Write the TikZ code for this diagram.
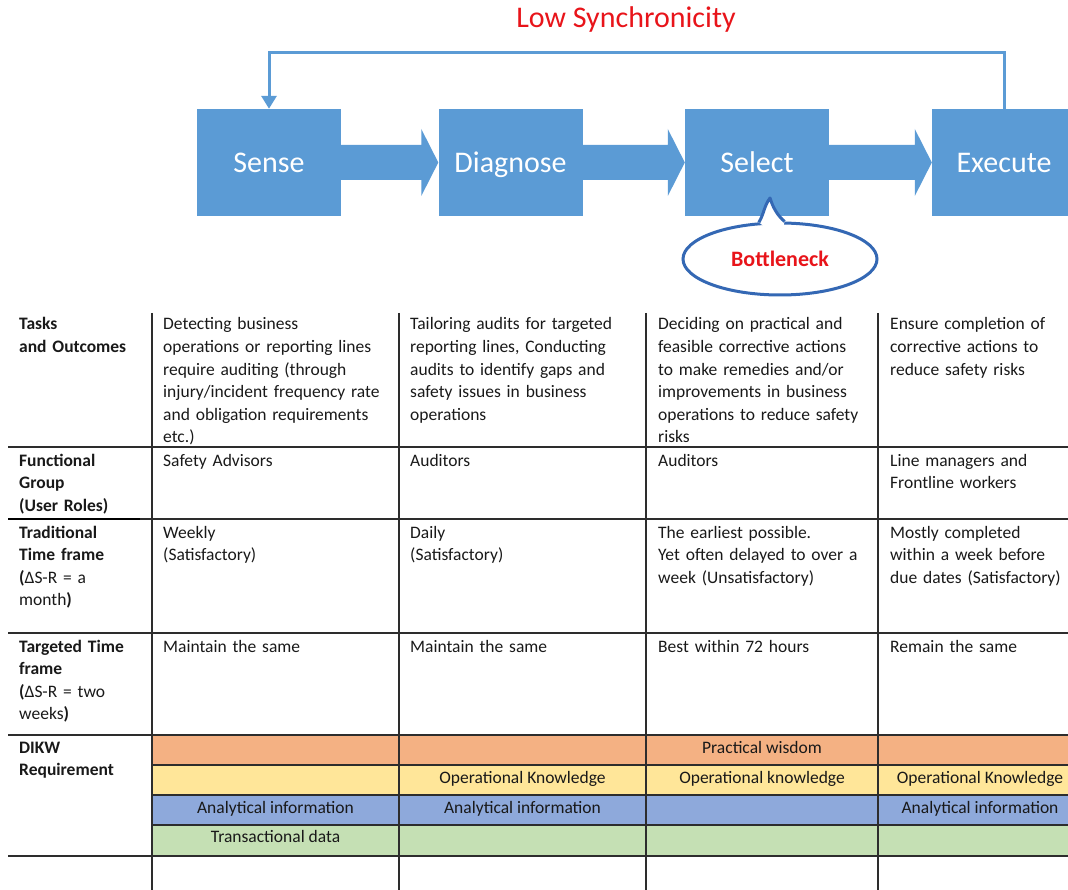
\documentclass[tikz,border=0pt]{standalone}
\usepackage{fontspec}
\setmainfont{Carlito}
\usetikzlibrary{arrows.meta,shapes.geometric,calc}

\definecolor{boxblue}{RGB}{91,155,213}
\definecolor{calloutblue}{RGB}{52,104,180}
\definecolor{alertred}{RGB}{232,20,26}
\definecolor{inkgray}{RGB}{25,25,25}
\definecolor{rulegray}{RGB}{45,45,45}
\definecolor{wisdomorange}{RGB}{244,177,131}
\definecolor{knowyellow}{RGB}{255,230,153}
\definecolor{infoblue}{RGB}{142,169,219}
\definecolor{datagreen}{RGB}{197,224,180}

\newcommand\cellfont{\fontsize{17.5}{22.6}\selectfont}

\tikzset{
  stage/.style={fill=boxblue, minimum width=144, minimum height=107, inner sep=0,
    text=white, font=\fontsize{30}{35}\selectfont, text height=19.5, text depth=0},
  loopline/.style={draw=boxblue, line width=3, -{Triangle[width=15pt,length=13pt]}},
  cell/.style={anchor=base west, inner sep=0, text width=236, align=left,
    font=\cellfont, text=inkgray},
  head/.style={cell, text width=130, font=\cellfont\bfseries},
  band/.style={anchor=base, inner sep=0, font=\cellfont, text=inkgray},
  rowrule/.style={draw=rulegray, line width=1.2},
}

% block arrow from the right side of #1 to the left side of #2
\newcommand\stagearrow[2]{%
  \fill[boxblue] ($(#1.east)+(0,-17.5)$) -- ($(#2.west)+(-17,-17.5)$)
    -- ($(#2.west)+(-17,-33.5)$) -- (#2.west) -- ($(#2.west)+(-17,33.5)$)
    -- ($(#2.west)+(-17,17.5)$) -- ($(#1.east)+(0,17.5)$) -- cycle;}

\begin{document}
\begin{tikzpicture}[x=1pt,y=-1pt]
\useasboundingbox (0,0) rectangle (1068,890);

% ---- process chain ----
\node[anchor=base, font=\fontsize{30}{36}\selectfont, text=alertred, inner sep=0]
  (lowsync) at (626,28) {Low Synchronicity};

\node[stage] (sense)    at (269,162.5)  {Sense};
\node[stage] (diagnose) at (510.5,162.5) {Diagnose};
\node[stage] (select)   at (757,162.5)  {Select};
\node[stage] (execute)  at (1004,162.5) {Execute};

\stagearrow{sense}{diagnose}
\stagearrow{diagnose}{select}
\stagearrow{select}{execute}

\draw[loopline] (execute.north) -- ++(0,-56) -| (sense.north);

% ---- bottleneck callout ----
\node[ellipse, draw=calloutblue, line width=3, fill=white, minimum width=194,
  minimum height=72, inner sep=0, font=\fontsize{22}{26}\selectfont\bfseries,
  text=alertred] (bneck) at (780,259) {Bottleneck};
\fill[white] (bneck.120) .. controls (764,214) and (764,206) .. (770,198)
  .. controls (773,208) and (778,216) .. (bneck.83) -- ($(bneck.center)+(0,-20)$) -- cycle;
\draw[calloutblue, line width=3, line join=round]
  (bneck.120) .. controls (764,214) and (764,206) .. (770,198)
  .. controls (773,208) and (778,216) .. (bneck.83);

% ---- DIKW colour bands ----
\fill[wisdomorange] (152,735) rectangle (1068,765);
\fill[knowyellow]   (152,765) rectangle (1068,795);
\fill[infoblue]     (152,795) rectangle (1068,825);
\fill[datagreen]    (152,825) rectangle (1068,856);

% ---- table rules ----
\foreach \y in {447,519,633,735,856} \draw[rowrule] (8,\y) -- (1068,\y);
\foreach \y in {765,795,825} \draw[rowrule] (152,\y) -- (1068,\y);
\draw[draw=black, line width=2] (8,519) -- (140,519);
\foreach \x in {152,399,646,878} \draw[rowrule] (\x,313) -- (\x,890);

% ---- row headers ----
\node[head] (h1) at (19,330) {Tasks\\and Outcomes};
\node[head] (h2) at (19,466) {Functional\\Group\\(User Roles)};
\node[head] (h3) at (19,538) {Traditional\\Time frame\\\textbf{(}\mdseries ΔS-R = a\\month\bfseries)};
\node[head] (h4) at (19,652) {Targeted Time\\frame\\\textbf{(}\mdseries ΔS-R = two\\weeks\bfseries)};
\node[head] (h5) at (19,753) {DIKW\\Requirement};

% ---- tasks and outcomes ----
\node[cell] (t1) at (163,330) {Detecting business\\operations or reporting lines\\require auditing (through\\injury/incident frequency rate\\and obligation requirements\\etc.)};
\node[cell] (t2) at (410,330) {Tailoring audits for targeted\\reporting lines, Conducting\\audits to identify gaps and\\safety issues in business\\operations};
\node[cell] (t3) at (658,330) {Deciding on practical and\\feasible corrective actions\\to make remedies and/or\\improvements in business\\operations to reduce safety\\risks};
\node[cell] (t4) at (890,330) {Ensure completion of\\corrective actions to\\reduce safety risks};

% ---- functional groups ----
\node[cell] (g1) at (163,466) {Safety Advisors};
\node[cell] (g2) at (410,466) {Auditors};
\node[cell] (g3) at (658,466) {Auditors};
\node[cell] (g4) at (890,466) {Line managers and\\Frontline workers};

% ---- traditional time frame ----
\node[cell] (r1) at (163,538) {Weekly\\(Satisfactory)};
\node[cell] (r2) at (410,538) {Daily\\(Satisfactory)};
\node[cell] (r3) at (658,538) {The earliest possible.\\Yet often delayed to over a\\week (Unsatisfactory)};
\node[cell] (r4) at (890,538) {Mostly completed\\within a week before\\due dates (Satisfactory)};

% ---- targeted time frame ----
\node[cell] (p1) at (163,652) {Maintain the same};
\node[cell] (p2) at (410,652) {Maintain the same};
\node[cell] (p3) at (658,652) {Best within 72 hours};
\node[cell] (p4) at (890,652) {Remain the same};

% ---- DIKW entries ----
\node[band] (w3) at (762,753) {Practical wisdom};
\node[band] (k2) at (522.5,783) {Operational Knowledge};
\node[band] (k3) at (762,783) {Operational knowledge};
\node[band] (k4) at (980,783) {Operational Knowledge};
\node[band] (i1) at (275.5,813) {Analytical information};
\node[band] (i2) at (522.5,813) {Analytical information};
\node[band] (i4) at (980,813) {Analytical information};
\node[band] (d1) at (275.5,842) {Transactional data};

\end{tikzpicture}
\end{document}
